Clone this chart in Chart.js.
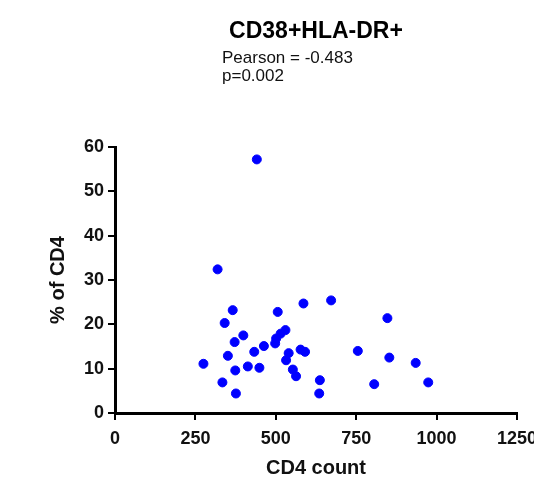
<!DOCTYPE html>
<html>
<head>
<meta charset="utf-8">
<script src="https://cdn.jsdelivr.net/npm/chart.js@4"></script>
<style>
  html, body { margin: 0; padding: 0; background: #fff; }
  #wrap { width: 534px; height: 481px; }
</style>
</head>
<body>
<div id="wrap"><canvas id="myChart" width="534" height="481"></canvas></div>
<script>
var chartTitle = 'CD38+HLA-DR+';
var statLines = ['Pearson = -0.483', 'p=0.002'];
var xTitle = 'CD4 count';
var yTitle = '% of CD4';

// CD4 count (x) and % of CD4 (y)
var cd4Count = [441, 319, 275, 334, 376, 341, 366, 351, 372, 374, 399, 413,
  433, 449, 463, 498, 506, 501, 515, 530, 540, 532, 553, 563,
  586, 672, 847, 577, 591, 637, 635, 755, 853, 935, 974, 806];
var pctCD4 = [57.2, 32.4, 11.1, 6.9, 4.4, 20.3, 23.2, 12.9, 16.0, 9.6, 17.5, 10.5,
  13.8, 10.2, 15.1, 15.7, 22.8, 16.8, 17.9, 18.7, 13.5, 11.9, 9.8, 8.3,
  24.7, 25.4, 21.4, 14.3, 13.8, 7.4, 4.4, 14.0, 12.5, 11.3, 6.9, 6.5];

var xTicks = [0, 250, 500, 750, 1000, 1250];
var yTicks = [0, 10, 20, 30, 40, 50, 60];

var pts = cd4Count.map(function (x, i) { return { x: x, y: pctCD4[i] }; });

var fam = '"Liberation Sans", Arial, sans-serif';

// header texts (title + stats) drawn on the canvas
var headerText = {
  id: 'headerText',
  afterDraw: function (chart) {
    var ctx = chart.ctx;
    var mid = (chart.chartArea.left + chart.chartArea.right) / 2;
    ctx.save();
    ctx.fillStyle = '#000';
    ctx.textBaseline = 'middle';
    ctx.textAlign = 'center';
    ctx.font = 'bold 23px ' + fam;
    ctx.fillText(chartTitle, mid, 32);
    ctx.textAlign = 'left';
    ctx.fillStyle = '#111';
    ctx.font = '17px ' + fam;
    ctx.fillText(statLines[0], 222, 58);
    ctx.fillText(statLines[1], 222, 76);
    ctx.restore();
  }
};

new Chart(document.getElementById('myChart'), {
  type: 'scatter',
  data: {
    datasets: [{
      data: pts,
      backgroundColor: '#0000ff',
      borderColor: '#0000ff',
      pointRadius: 4.5,
      pointHoverRadius: 4.5
    }]
  },
  options: {
    responsive: false,
    animation: false,
    layout: { padding: { top: 147, right: 17, bottom: 0, left: 0 } },
    plugins: {
      legend: { display: false },
      tooltip: { enabled: false }
    },
    scales: {
      x: {
        type: 'linear',
        min: 0, max: 1250,
        afterFit: function (s) { s.height = 68; s.paddingRight = 0; s.paddingLeft = 0; },
        afterBuildTicks: function (s) { s.ticks = xTicks.map(function (v) { return { value: v }; }); },
        border: { display: true, color: '#000', width: 3 },
        grid: { display: true, drawOnChartArea: false, drawTicks: true, tickLength: 7, color: '#000', lineWidth: 2 },
        ticks: { color: '#111', padding: 8, maxRotation: 0, callback: function (v) { return String(v); },
          font: { family: fam, size: 18, weight: 'bold' } },
        title: { display: true, text: xTitle, color: '#111', padding: { top: 0, bottom: 1 }, font: { family: fam, size: 20, weight: 'bold' } }
      },
      y: {
        type: 'linear',
        min: 0, max: 60,
        afterFit: function (s) { s.width = 115; },
        afterBuildTicks: function (s) { s.ticks = yTicks.map(function (v) { return { value: v }; }); },
        border: { display: true, color: '#000', width: 3 },
        grid: { display: true, drawOnChartArea: false, drawTicks: true, tickLength: 7, color: '#000', lineWidth: 2 },
        ticks: { color: '#111', padding: 4, callback: function (v) { return String(v); },
          font: { family: fam, size: 18, weight: 'bold' } },
        title: { display: true, text: yTitle, color: '#111', padding: { top: 46, bottom: 0 }, font: { family: fam, size: 20, weight: 'bold' } }
      }
    }
  },
  plugins: [headerText]
});
</script>
</body>
</html>
